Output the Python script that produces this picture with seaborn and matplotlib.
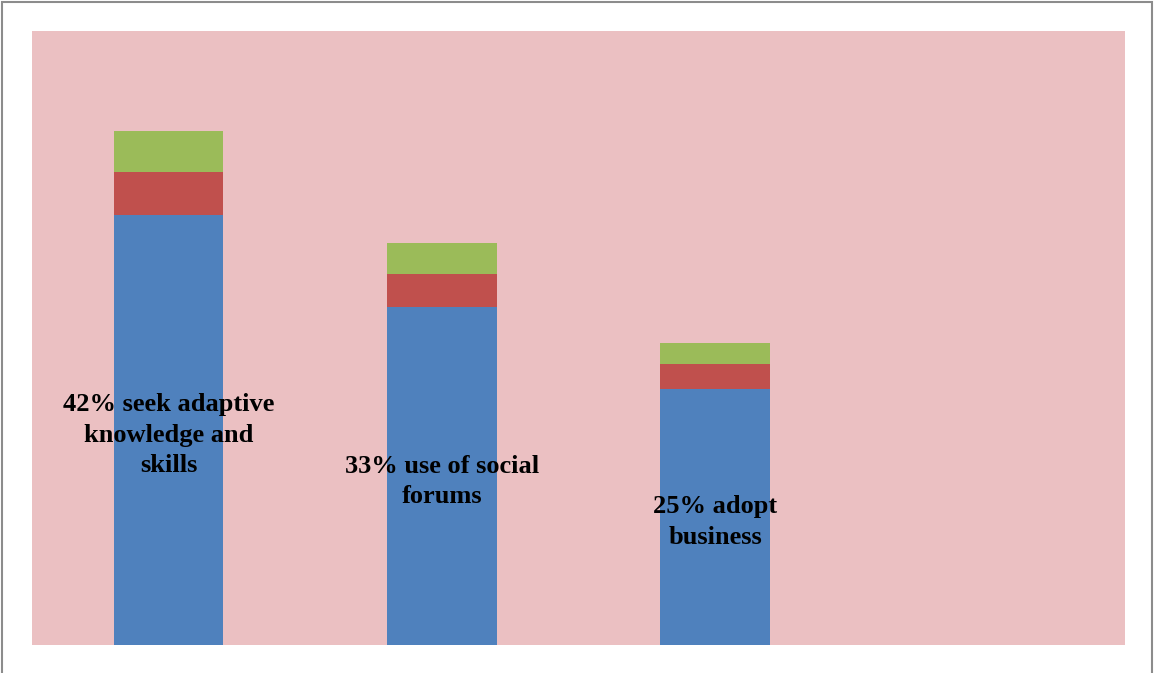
import numpy as np
import pandas as pd
import matplotlib
matplotlib.use("Agg")
import matplotlib.pyplot as plt
import matplotlib.transforms as mtransforms
import seaborn as sns

categories = ["seek adaptive knowledge and skills", "use of social forums", "adopt business", ""]
labels = ["42% seek adaptive\nknowledge and\nskills", "33% use of social\nforums", "25% adopt\nbusiness"]
blue_vals = [42, 33, 25, 0]
red_vals = [4.2, 3.3, 2.5, 0]
green_vals = [4.0, 3.0, 2.0, 0]

df = pd.DataFrame({
    "category": categories,
    "blue": blue_vals,
    "red": red_vals,
    "green": green_vals,
})
df["red_top"] = df["blue"] + df["red"]
df["green_top"] = df["red_top"] + df["green"]

sns.set_style("white")
plt.rcParams['font.family'] = ['Liberation Serif', 'DejaVu Serif']

fig = plt.figure(figsize=(11.54, 6.73), dpi=100)
ax = fig.add_axes([32 / 1154, 28 / 673, 1093 / 1154, 614 / 673])
ax.set_facecolor("#ebc0c2")

# stacked bars drawn back to front
sns.barplot(data=df, x="category", y="green_top", color="#9bbb59", width=0.4,
            saturation=1, linewidth=0, ax=ax, order=categories)
sns.barplot(data=df, x="category", y="red_top", color="#c0504d", width=0.4,
            saturation=1, linewidth=0, ax=ax, order=categories)
sns.barplot(data=df, x="category", y="blue", color="#4f81bd", width=0.4,
            saturation=1, linewidth=0, ax=ax, order=categories)

# labels sit in the middle of the blue segment, nudged a little down
shift = mtransforms.ScaledTranslation(0, -5 / 100, fig.dpi_scale_trans)
for i, txt in enumerate(labels):
    ax.text(i, blue_vals[i] / 2, txt, ha="center", va="center",
            fontsize=19, fontweight="bold", color="black", linespacing=1.4,
            transform=ax.transData + shift)

ax.set_xlim(-0.5, 3.5)
ax.set_ylim(0, 60)
ax.set_xticks([])
ax.set_yticks([])
ax.set_xlabel("")
ax.set_ylabel("")
for s in ax.spines.values():
    s.set_visible(False)

# outer frame of the picture
fig.add_artist(plt.Rectangle((1.5 / 1154, -0.05), 1150.5 / 1154, 1.05 - 2.5 / 673,
                             transform=fig.transFigure, fill=False,
                             edgecolor="#8c8c8c", linewidth=1.5))

fig.savefig("out.png", dpi=100)
